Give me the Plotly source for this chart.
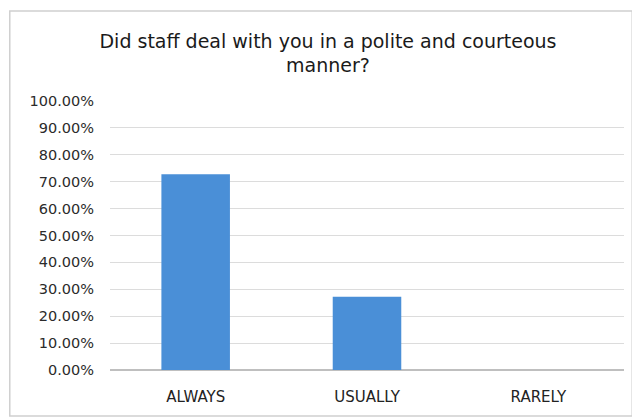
import plotly.graph_objects as go

# survey answers and share of respondents
categories = ["ALWAYS", "USUALLY", "RARELY"]
shares = [0.7273, 0.2727, 0.0]
y_ticks = [i / 10 for i in range(11)]

# the page body adds an 8px offset, so margins are shifted to compensate
fig = go.Figure()
fig.add_trace(go.Bar(x=categories, y=shares, marker_color="#4a8fd7",
                     marker_line_width=0, width=0.4))

fig.update_layout(
    width=640, height=418,
    margin=dict(l=102, r=24, t=93, b=56),
    paper_bgcolor="white", plot_bgcolor="white",
    showlegend=False,
    title=dict(text="Did staff deal with you in a polite and courteous<br>manner?",
               x=0.5, xanchor="center", y=0.905, yanchor="bottom",
               font=dict(family="DejaVu Sans, Arial", size=19, color="#1a1a1a")),
    font=dict(family="DejaVu Sans", size=15, color="#333333"),
)
fig.update_yaxes(range=[0, 1], tickvals=y_ticks, tickformat=".2%",
                 showgrid=True, gridcolor="#dcdcdc", gridwidth=1,
                 zeroline=True, zerolinecolor="#bfbfbf",
                 ticks="", ticklabelstandoff=15,
                 tickfont=dict(size=14.5, color="#2b2b2b"))
fig.update_xaxes(showline=True, linecolor="#bfbfbf", ticks="",
                 ticklabelstandoff=13,
                 tickfont=dict(size=15, color="#222222"))

# outer chart border
fig.add_shape(type="rect", xref="paper", yref="paper",
              x0=-0.195, x1=1.016, y0=-0.171, y1=1.335,
              line=dict(color="#d0d0d0", width=1.5))

fig.write_html("out.html")
